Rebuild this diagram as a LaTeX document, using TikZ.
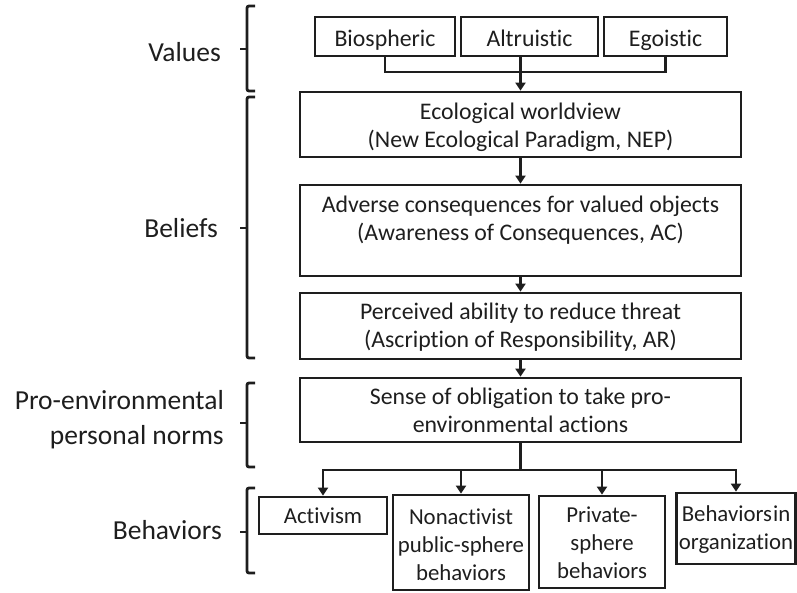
\documentclass[tikz,border=0pt]{standalone}
\usepackage{fontspec}
\setmainfont{Carlito}[Ligatures=NoCommon]
\usetikzlibrary{arrows.meta}

\definecolor{ink}{HTML}{1E1E1E}

\tikzset{
  box/.style={draw=ink, line width=2.8pt, rectangle, inner sep=2pt, align=center,
    text=ink, font=\fontsize{23.8}{28}\selectfont, text depth=4pt},
  small/.style={font=\fontsize{22.8}{28}\selectfont},
  side/.style={text=ink, align=right, anchor=east, inner sep=0pt,
    font=\fontsize{27.5}{35}\selectfont},
  link/.style={draw=ink, line width=2.8pt},
  arrow/.style={link, -{Triangle[length=8pt,width=10pt]}},
  brace/.style={draw=ink, line width=2.8pt, rounded corners=2pt},
}

\begin{document}
\begin{tikzpicture}[x=1pt, y=-1pt]
\useasboundingbox (0,0) rectangle (797,592);

% value orientations
\node[box, minimum width=140, minimum height=39, text height=22pt, text depth=3pt]
  (bio) at (385,36.5) {Biospheric};
\node[box, minimum width=137, minimum height=39, text height=22pt, text depth=3pt]
  (alt) at (529.5,36.5) {Altruistic};
\node[box, minimum width=123, minimum height=39, text height=22pt, text depth=3pt]
  (ego) at (665.5,36.5) {Egoistic};

% beliefs chain
\node[box, minimum width=441, minimum height=65, text height=50.4pt] (nep) at (520.5,124.5)
  {Ecological worldview\\(New Ecological Paradigm, NEP)};
\node[box, minimum width=441, minimum height=91] (ac) at (520.5,230.5) {};
\node[text=ink, align=center, inner sep=0pt, font=\fontsize{23.8}{28}\selectfont,
  text height=48pt, text depth=4pt] (actext) at (520.5,218.7)
  {Adverse consequences for valued objects\\(Awareness of Consequences, AC)};
\node[box, minimum width=441, minimum height=66, text height=46.4pt] (ar) at (520.5,326)
  {Perceived ability to reduce threat\\(Ascription of Responsibility, AR)};

% personal norm
\node[box, minimum width=441, minimum height=64, text height=48.4pt] (norms) at (520.5,410)
  {Sense of obligation to take pro-\\environmental actions};

% behaviour types
\node[box, small, minimum width=128, minimum height=37, text height=20pt, text depth=4.4pt]
  (act) at (323,515.5) {Activism};
\node[box, small, minimum width=136, minimum height=95, text height=79.6pt]
  (nonact) at (461,542.5) {Nonactivist\\public-sphere\\behaviors};
\node[box, small, minimum width=126, minimum height=92, text height=77.6pt]
  (priv) at (602,542) {Private-\\sphere\\behaviors};
\node[box, small, minimum width=118, minimum height=71, text height=45.6pt]
  (org) at (736,528.5) {Behaviors\hspace{1pt}in\\organization};

% connectors
\coordinate (vjoin) at (520.5,72);
\coordinate (fork) at (520.5,470);
\draw[link] (bio.south) |- (vjoin) -| (ego.south);
\draw[arrow] (alt.south -| nep.north) -- (nep.north);
\draw[arrow] (nep.south) -- (ac.north);
\draw[arrow] (ac.south) -- (ar.north);
\draw[arrow] (ar.south) -- (norms.north);
\draw[arrow] (norms.south) -- (fork) -| (act.north);
\draw[arrow] (fork) -| (org.north);
\draw[arrow] (nonact.north |- fork) -- (nonact.north);
\draw[arrow] (priv.north |- fork) -- (priv.north);

% side labels
\node[side] (lvalues) at (221,52) {Values};
\node[side] (lbeliefs) at (218,228) {Beliefs};
\node[side] (lnorms) at (224,420) {Pro-environmental\\personal norms};
\node[side] (lbehav) at (222,530) {Behaviors};

% brackets
\draw[brace] (255,6) -- (247,6) -- (247,91) -- (255,91);
\draw[brace] (247,49) -- (240,49);
\draw[brace] (255,97) -- (247,97) -- (247,358) -- (255,358);
\draw[brace] (247,228) -- (240,228);
\draw[brace] (255,383) -- (247,383) -- (247,467) -- (255,467);
\draw[brace] (247,423) -- (240,423);
\draw[brace] (255,488) -- (247,488) -- (247,573) -- (255,573);
\draw[brace] (247,532) -- (240,532);
\end{tikzpicture}
\end{document}
